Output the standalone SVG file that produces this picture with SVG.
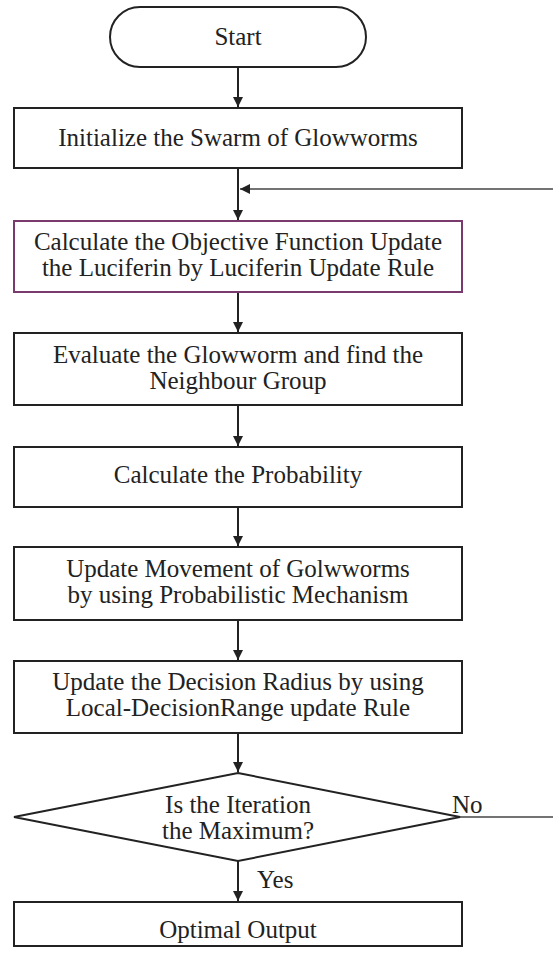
<svg xmlns="http://www.w3.org/2000/svg" width="553" height="959" viewBox="0 0 553 959">
<defs>
<style>
.box{fill:#fff;stroke:#222;stroke-width:2}
.pbox{fill:#fff;stroke:#7a3a6e;stroke-width:2}
.t{font-family:"Liberation Serif","Times New Roman",serif;font-size:25px;fill:#222;text-anchor:middle}
.tl{font-family:"Liberation Serif","Times New Roman",serif;font-size:25px;fill:#222}
.c{stroke:#222;stroke-width:2;fill:none}
.c1{stroke:#444;stroke-width:1.5;fill:none}
</style>
<marker id="ah" viewBox="0 0 10 10" refX="10" refY="5" markerWidth="10" markerHeight="10" markerUnits="userSpaceOnUse" orient="auto">
<path d="M0,0 L10,5 L0,10 Z" fill="#222"/>
</marker>
</defs>
<rect width="553" height="959" fill="#fff"/>
<g id="connectors">
<line class="c" x1="238" y1="67" x2="238" y2="107" marker-end="url(#ah)"/>
<line class="c" x1="238" y1="168" x2="238" y2="220" marker-end="url(#ah)"/>
<line class="c1" x1="553" y1="189" x2="240" y2="189" marker-end="url(#ah)"/>
<line class="c" x1="238" y1="292" x2="238" y2="332" marker-end="url(#ah)"/>
<line class="c" x1="238" y1="405" x2="238" y2="446" marker-end="url(#ah)"/>
<line class="c" x1="238" y1="507" x2="238" y2="546" marker-end="url(#ah)"/>
<line class="c" x1="238" y1="620" x2="238" y2="660" marker-end="url(#ah)"/>
<line class="c" x1="238" y1="733" x2="238" y2="772" marker-end="url(#ah)"/>
<line class="c" x1="238" y1="861" x2="238" y2="901" marker-end="url(#ah)"/>
<line class="c1" x1="460" y1="817" x2="553" y2="817"/>
<text class="tl" x="257" y="888">Yes</text>
<text class="tl" x="452" y="813">No</text>
</g>
<g id="start">
<rect class="box" x="110" y="7" width="256" height="60" rx="30" ry="30"/>
<text class="t" x="238" y="45">Start</text>
</g>
<g id="init">
<rect class="box" x="14" y="108" width="448" height="60"/>
<text class="t" x="238" y="146">Initialize the Swarm of Glowworms</text>
</g>
<g id="calcobj">
<rect class="pbox" x="14" y="221" width="448" height="71"/>
<text class="t" x="238" y="250">Calculate the Objective Function Update</text>
<text class="t" x="238" y="276">the Luciferin by Luciferin Update Rule</text>
</g>
<g id="evaluate">
<rect class="box" x="14" y="333" width="448" height="72"/>
<text class="t" x="238" y="363">Evaluate the Glowworm and find the</text>
<text class="t" x="238" y="389">Neighbour Group</text>
</g>
<g id="prob">
<rect class="box" x="14" y="447" width="448" height="60"/>
<text class="t" x="238" y="483">Calculate the Probability</text>
</g>
<g id="move">
<rect class="box" x="14" y="547" width="448" height="73"/>
<text class="t" x="238" y="577">Update Movement of Golwworms</text>
<text class="t" x="238" y="603">by using Probabilistic Mechanism</text>
</g>
<g id="radius">
<rect class="box" x="14" y="661" width="448" height="72"/>
<text class="t" x="238" y="690">Update the Decision Radius by using</text>
<text class="t" x="238" y="716">Local-DecisionRange update Rule</text>
</g>
<g id="decision">
<polygon class="box" points="238,773 460,817 238,861 14,817"/>
<text class="t" x="238" y="813">Is the Iteration</text>
<text class="t" x="238" y="839">the Maximum?</text>
</g>
<g id="output">
<rect class="box" x="14" y="902" width="448" height="44"/>
<text class="t" x="238" y="938">Optimal Output</text>
</g>
</svg>
